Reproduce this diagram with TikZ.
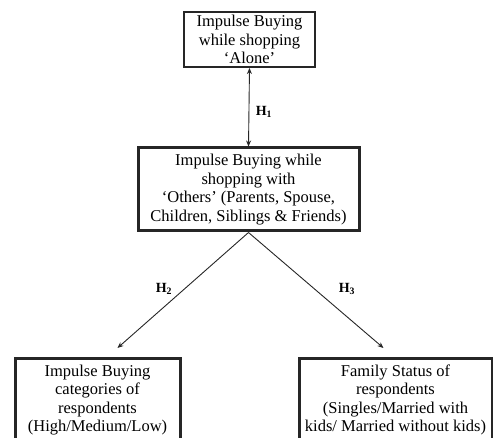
\documentclass[tikz,border=0pt]{standalone}
\usepackage{fontspec}
\setmainfont{Liberation Serif}
\usetikzlibrary{positioning,arrows.meta}

\begin{document}
\begin{tikzpicture}[x=1pt,y=1pt,
	box/.style={draw=black!85, align=center, inner xsep=2pt, inner ysep=0pt, font=\fontsize{16.5}{18.5}\selectfont},
	link/.style={draw=black!85, line width=0.9pt},
	tip/.style={-{Stealth[length=6pt,width=5pt]}},
	hlabel/.style={font=\fontsize{14}{16}\selectfont\bfseries}]
	\useasboundingbox (0,0) rectangle (493,437);
	% boxes
	\node[box, line width=2pt, minimum width=131, minimum height=55] (alone) at (249.5,397.5)
		{Impulse Buying\\while shopping\\`Alone'};
	\node[box, line width=3pt, minimum width=221, minimum height=83] (others) at (248.5,247.5)
		{Impulse Buying while\\shopping with\\`Others' (Parents, Spouse,\\Children, Siblings \& Friends)};
	\node[box, line width=3pt, minimum width=165, minimum height=83, anchor=north] (cat) at (97.5,80)
		{Impulse Buying\\categories of\\respondents\\(High/Medium/Low)};
	\node[box, line width=3pt, minimum width=193, minimum height=83, anchor=north] (family) at (395.5,80)
		{Family Status of\\respondents\\(Singles/Married with\\kids/ Married without kids)};
	% links
	\draw[link, {Stealth[length=6pt,width=5pt]}-{Stealth[length=6pt,width=5pt]}] (alone.south) -- (others.north);
	\draw[link, tip] (others.south) -- ([xshift=20pt,yshift=9pt]cat.north);
	\draw[link, tip] (others.south) -- ([xshift=-12pt,yshift=9pt]family.north);
	% labels
	\node[hlabel] (h1) at (264,325) {H$_{\mathbf 1}$};
	\node[hlabel] (h2) at (164,148) {H$_{\mathbf 2}$};
	\node[hlabel] (h3) at (347,148) {H$_{\mathbf 3}$};
\end{tikzpicture}
\end{document}
